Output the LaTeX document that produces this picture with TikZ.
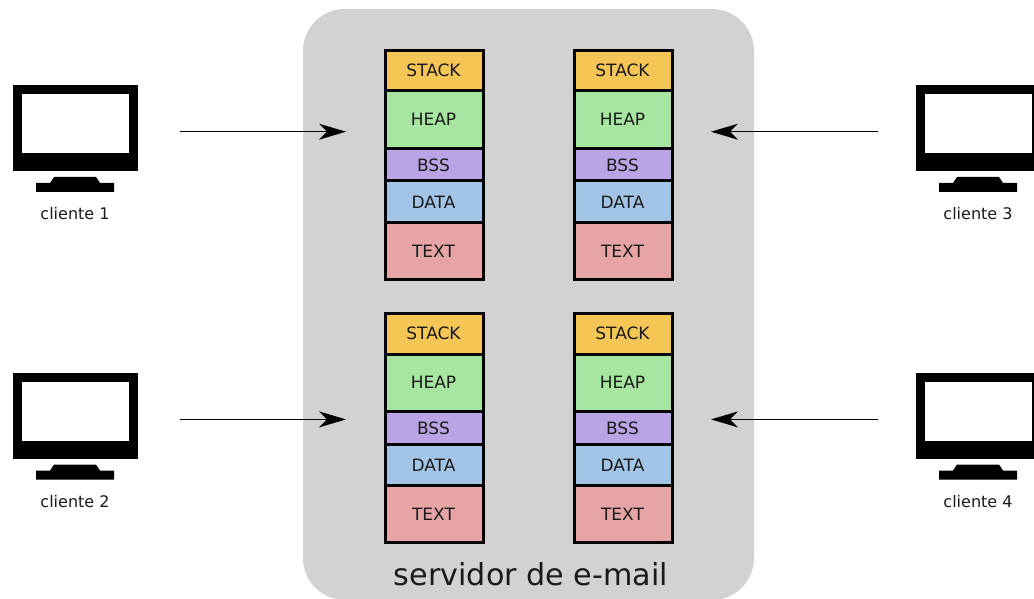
\documentclass[tikz,border=0pt]{standalone}
\usepackage{fontspec}
\setmainfont{DejaVu Sans}
\usetikzlibrary{arrows.meta}
\definecolor{panelgray}{HTML}{D2D2D2}
\definecolor{cstack}{HTML}{F5C555}
\definecolor{cheap}{HTML}{A6E6A1}
\definecolor{cbss}{HTML}{BAA4E6}
\definecolor{cdata}{HTML}{A2C4E6}
\definecolor{ctext}{HTML}{E6A4A4}
\definecolor{ink}{HTML}{1A1A1A}
\tikzset{
  x=1pt,y=-1pt,
  cell/.style={draw=black,line width=3pt,minimum width=98pt,inner sep=0pt,outer sep=0pt,anchor=north west},
  celltext/.style={font=\fontsize{17}{17}\selectfont,text=ink,inner sep=0pt},
  clientlabel/.style={font=\fontsize{16}{16}\selectfont,text=ink,inner sep=0pt},
  panel/.style={fill=panelgray,rounded corners=42pt},
  flow/.style={line width=1.2pt,-{Stealth[length=27pt,width=16pt,inset=8pt]}},
  mbody/.style={fill=black},
  mscreen/.style={fill=white}
}
\newcommand{\stackcol}[3]{% id, x, y
  \node[cell,fill=cstack,minimum height=41pt] (#1stack) at (#2,#3) {};
  \node[cell,fill=cheap,minimum height=57.5pt] (#1heap) at (#2,#3+40.5) {};
  \node[cell,fill=cbss,minimum height=33pt] (#1bss) at (#2,#3+98) {};
  \node[cell,fill=cdata,minimum height=41.5pt] (#1data) at (#2,#3+130.5) {};
  \node[cell,fill=ctext,minimum height=57.5pt] (#1text) at (#2,#3+171.5) {};
  \node[celltext] (#1tstack) at (#2+48,#3+20) {STACK};
  \node[celltext] (#1theap) at (#2+48,#3+68.5) {HEAP};
  \node[celltext] (#1tbss) at (#2+48,#3+114.5) {BSS};
  \node[celltext] (#1tdata) at (#2+48,#3+151.5) {DATA};
  \node[celltext] (#1ttext) at (#2+48,#3+200.5) {TEXT};
}
\newcommand{\monitor}[4]{% id, x offset, y offset, label
  \fill[mbody] (#2+13,#3+85) rectangle (#2+138,#3+171);
  \fill[mscreen] (#2+22,#3+94) rectangle (#2+129,#3+153);
  \fill[mbody] (#2+36,#3+183) -- (#2+50,#3+183) -- (#2+54,#3+177) -- (#2+96,#3+177) -- (#2+100,#3+183) -- (#2+114,#3+183) -- (#2+114,#3+192) -- (#2+36,#3+192) -- cycle;
  \node[clientlabel] (#1) at (#2+75,#3+214) {#4};
}
\begin{document}
\begin{tikzpicture}
\useasboundingbox (0,0) rectangle (1034,599);
\clip (0,0) rectangle (1034,599);
\fill[panel] (303,9) rectangle (754,600);
\stackcol{a}{385.5}{50.5}
\stackcol{b}{574.5}{50.5}
\stackcol{c}{385.5}{313.5}
\stackcol{d}{574.5}{313.5}
\monitor{c1}{0}{0}{cliente 1}
\monitor{c2}{0}{287.5}{cliente 2}
\monitor{c3}{903}{0}{cliente 3}
\monitor{c4}{903}{287.5}{cliente 4}
\node[font=\fontsize{30.2}{30}\selectfont,text=ink,inner sep=0pt] (server) at (531,574) {servidor de e-mail};
\coordinate (s1) at (180,131.7);
\coordinate (e1) at (346,131.7);
\coordinate (s2) at (180,419.4);
\coordinate (e2) at (346,419.4);
\coordinate (s3) at (878,131.7);
\coordinate (e3) at (711,131.7);
\coordinate (s4) at (878,419.4);
\coordinate (e4) at (711,419.4);
\draw[flow] (s1) -- (e1);
\draw[flow] (s2) -- (e2);
\draw[flow] (s3) -- (e3);
\draw[flow] (s4) -- (e4);
\end{tikzpicture}
\end{document}
